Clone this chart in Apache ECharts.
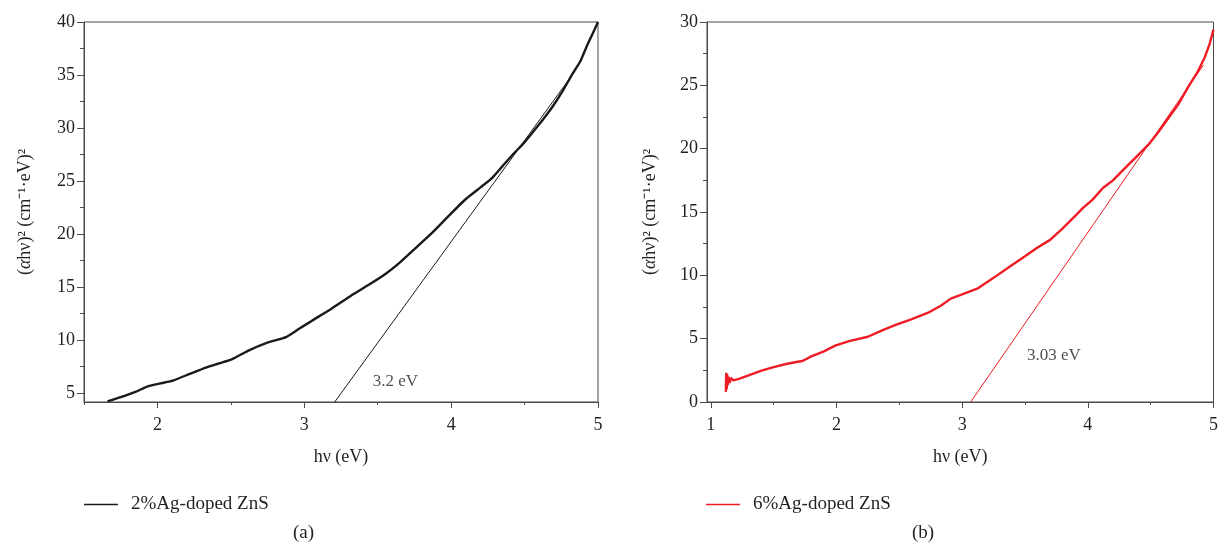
<!DOCTYPE html>
<html>
<head>
<meta charset="utf-8">
<script src="https://cdn.jsdelivr.net/npm/echarts@6/dist/echarts.min.js"></script>
<style>
  html, body { margin: 0; padding: 0; background: #fff; }
  #chart { width: 1221px; height: 556px; }
</style>
</head>
<body>
<div id="chart"></div>
<script>
// ============================================================
// 数据
// ============================================================

// (a) 2%Ag-doped ZnS
var hvA = [1.66, 1.75, 1.85, 1.93, 2.02, 2.11, 2.22, 2.33, 2.42, 2.51, 2.62, 2.74, 2.88, 2.97,
  3.05, 3.19, 3.32, 3.45, 3.55, 3.65, 3.76, 3.87, 3.99, 4.1, 4.2, 4.28, 4.35, 4.42, 4.49,
  4.55, 4.62, 4.69, 4.76, 4.83, 4.88, 4.92, 4.96, 5.0];
var absA = [4.2, 4.6, 5.1, 5.6, 5.9, 6.2, 6.8, 7.4, 7.8, 8.2, 9.0, 9.7, 10.3, 11.1,
  11.8, 13.0, 14.2, 15.3, 16.2, 17.3, 18.7, 20.1, 21.8, 23.3, 24.4, 25.3, 26.4, 27.5, 28.5,
  29.5, 30.7, 32.0, 33.5, 35.2, 36.3, 37.6, 38.8, 40.0];
var fitHvA = [3.207, 4.84];
var fitAbsA = [4.15, 35.3];

// (b) 6%Ag-doped ZnS
var hvB = [1.12, 1.123, 1.127, 1.13, 1.135, 1.14, 1.15, 1.16, 1.18, 1.23, 1.3, 1.41, 1.5, 1.6,
  1.68, 1.73, 1.8, 1.9, 1.99, 2.1, 2.25, 2.35, 2.46, 2.6, 2.73, 2.83, 2.91, 3.0, 3.12, 3.25,
  3.38, 3.5, 3.6, 3.7, 3.8, 3.9, 3.96, 4.04, 4.12, 4.2, 4.28, 4.38, 4.49, 4.56, 4.64, 4.72,
  4.8, 4.87, 4.93, 4.97, 5.0];
var absB = [0.8, 2.3, 1.0, 2.2, 1.3, 2.0, 1.5, 1.9, 1.7, 1.85, 2.1, 2.5, 2.75, 3.0,
  3.16, 3.24, 3.6, 4.0, 4.45, 4.8, 5.15, 5.6, 6.05, 6.55, 7.05, 7.6, 8.16, 8.5, 8.95, 9.8,
  10.7, 11.5, 12.2, 12.8, 13.7, 14.7, 15.3, 16.0, 16.9, 17.5, 18.3, 19.3, 20.4, 21.3, 22.4, 23.5,
  24.9, 26.0, 27.2, 28.3, 29.4];
var fitHvB = [3.068, 4.92];
var fitAbsB = [0, 26.6];

// 刻度
var xMajorA = [2, 3, 4, 5];
var xMinorA = [1.5, 2.5, 3.5, 4.5];
var yMajorA = [5, 10, 15, 20, 25, 30, 35, 40];
var yMinorA = [7.5, 12.5, 17.5, 22.5, 27.5, 32.5, 37.5];
var xMajorB = [1, 2, 3, 4, 5];
var xMinorB = [1.5, 2.5, 3.5, 4.5];
var yMajorB = [0, 5, 10, 15, 20, 25, 30];
var yMinorB = [2.5, 7.5, 12.5, 17.5, 22.5, 27.5];

var NAME_A = '2%Ag-doped ZnS';
var NAME_B = '6%Ag-doped ZnS';
var GAP_A = '3.2 eV';
var GAP_B = '3.03 eV';

// ============================================================
// 样式
// ============================================================

var FONT = 'Liberation Serif';
var AXIS_COLOR = '#4a4a4a';
var TEXT_COLOR = '#231f20';
var BLACK = '#1a1a1a';
var RED = '#ee1c25';

function zip(xs, ys) {
  return xs.map(function(x, i) { return [x, ys[i]]; });
}

function majorX(gridIndex, min, max, ticks, name) {
  return {
    type: 'value', gridIndex: gridIndex, position: 'bottom', min: min, max: max,
    name: name, nameLocation: 'middle', nameGap: 46,
    nameTextStyle: { fontFamily: FONT, fontSize: 18, color: TEXT_COLOR },
    axisLine: { show: true, lineStyle: { color: AXIS_COLOR, width: 1 } },
    axisTick: { show: true, length: 6, customValues: ticks, lineStyle: { color: AXIS_COLOR } },
    axisLabel: { customValues: ticks, margin: 14, fontFamily: FONT, fontSize: 18, color: TEXT_COLOR },
    splitLine: { show: false },
  };
}

function minorX(gridIndex, min, max, ticks) {
  return {
    type: 'value', gridIndex: gridIndex, position: 'bottom', min: min, max: max,
    axisLine: { show: false },
    axisTick: { show: true, length: 3, customValues: ticks, lineStyle: { color: AXIS_COLOR } },
    axisLabel: { show: false },
    splitLine: { show: false },
  };
}

function majorY(gridIndex, min, max, ticks, gap) {
  return {
    type: 'value', gridIndex: gridIndex, position: 'left', min: min, max: max,
    name: '({i|α}hν)² (cm⁻¹·eV)²', nameLocation: 'middle', nameGap: gap,
    nameTextStyle: {
      fontFamily: FONT, fontSize: 18, color: TEXT_COLOR,
      rich: { i: { fontFamily: FONT, fontSize: 18, fontStyle: 'italic', color: TEXT_COLOR } },
    },
    axisLine: { show: true, lineStyle: { color: AXIS_COLOR, width: 1 } },
    axisTick: { show: true, length: 7, customValues: ticks, lineStyle: { color: AXIS_COLOR } },
    axisLabel: { customValues: ticks, margin: 9, fontFamily: FONT, fontSize: 18, color: TEXT_COLOR },
    splitLine: { show: false },
  };
}

function minorY(gridIndex, min, max, ticks) {
  return {
    type: 'value', gridIndex: gridIndex, position: 'left', min: min, max: max,
    axisLine: { show: false },
    axisTick: { show: true, length: 4, customValues: ticks, lineStyle: { color: AXIS_COLOR } },
    axisLabel: { show: false },
    splitLine: { show: false },
  };
}

function legendAt(left, name) {
  return {
    left: left, top: 495, padding: 0, data: [name], icon: 'rect', itemWidth: 34, itemHeight: 1.5,
    textStyle: { fontFamily: FONT, fontSize: 19, color: TEXT_COLOR, padding: [0, 0, 0, 8] },
    selectedMode: false,
  };
}

// ============================================================
// 图表
// ============================================================

var chart = echarts.init(document.getElementById('chart'), null, { renderer: 'canvas' });

chart.setOption({
  animation: false,
  backgroundColor: '#fff',
  grid: [
    { left: 84, top: 22, width: 514, height: 380, show: true, borderColor: AXIS_COLOR, borderWidth: 1 },
    { left: 707, top: 22, width: 512, height: 380, show: true, borderColor: AXIS_COLOR, borderWidth: 1 },
  ],
  xAxis: [
    majorX(0, 1.5, 5, xMajorA, 'hν (eV)'),
    minorX(0, 1.5, 5, xMinorA),
    majorX(1, 0.97, 5, xMajorB, 'hν (eV)'),
    minorX(1, 0.97, 5, xMinorB),
  ],
  yAxis: [
    majorY(0, 4.15, 40, yMajorA, 50),
    minorY(0, 4.15, 40, yMinorA),
    majorY(1, 0, 30, yMajorB, 48),
    minorY(1, 0, 30, yMinorB),
  ],
  legend: [legendAt(84, NAME_A), legendAt(706, NAME_B)],
  series: [
    {
      name: NAME_A, type: 'line', xAxisIndex: 0, yAxisIndex: 0, data: zip(hvA, absA),
      showSymbol: false, smooth: 0.2, lineStyle: { color: BLACK, width: 2.4 }, itemStyle: { color: BLACK },
    },
    {
      name: 'fitA', type: 'line', xAxisIndex: 0, yAxisIndex: 0, data: zip(fitHvA, fitAbsA),
      showSymbol: false, lineStyle: { color: BLACK, width: 1 },
    },
    {
      name: 'labelA', type: 'scatter', xAxisIndex: 0, yAxisIndex: 0, data: [[3.62, 6.1]],
      symbolSize: 0, silent: true,
      label: { show: true, position: 'inside', formatter: GAP_A, fontFamily: FONT, fontSize: 17, color: TEXT_COLOR },
    },
    {
      name: NAME_B, type: 'line', xAxisIndex: 2, yAxisIndex: 2, data: zip(hvB, absB),
      showSymbol: false, lineStyle: { color: RED, width: 2.4 }, itemStyle: { color: RED },
    },
    {
      name: 'fitB', type: 'line', xAxisIndex: 2, yAxisIndex: 2, data: zip(fitHvB, fitAbsB),
      showSymbol: false, lineStyle: { color: RED, width: 1 },
    },
    {
      name: 'labelB', type: 'scatter', xAxisIndex: 2, yAxisIndex: 2, data: [[3.73, 3.7]],
      symbolSize: 0, silent: true,
      label: { show: true, position: 'inside', formatter: GAP_B, fontFamily: FONT, fontSize: 17, color: TEXT_COLOR },
    },
  ],
  graphic: [
    { type: 'text', left: 293, top: 524, style: { text: '(a)', font: '19px "Liberation Serif"', fill: TEXT_COLOR } },
    { type: 'text', left: 912, top: 524, style: { text: '(b)', font: '19px "Liberation Serif"', fill: TEXT_COLOR } },
  ],
});
</script>
</body>
</html>
